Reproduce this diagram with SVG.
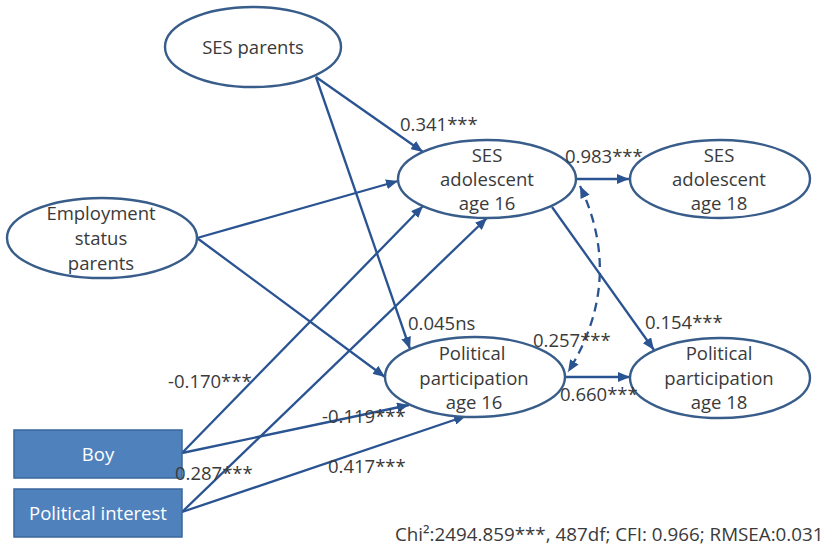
<svg xmlns="http://www.w3.org/2000/svg" width="824" height="555" viewBox="0 0 824 555">
  <style>
    .node ellipse { fill: #ffffff; stroke: #385D8A; stroke-width: 2.4; }
    .box rect { fill: #4F81BD; stroke: #3A679C; stroke-width: 1.5; }
    text { font-family: "Open Sans", "Noto Sans", "Liberation Sans", sans-serif; font-size: 18.5px; fill: #3a3a3a; }
    .c { text-anchor: middle; }
    .box text { fill: #ffffff; text-anchor: middle; }
    .fit { font-size: 18.8px; }
    .edge { fill: none; stroke: #2A5392; stroke-width: 2.3; marker-end: url(#arrow); }
    .cov { fill: none; stroke: #2A5392; stroke-width: 2.3; stroke-dasharray: 9 6; marker-start: url(#arrowS); marker-end: url(#arrow); }
  </style>
  <defs>
    <marker id="arrow" viewBox="0 0 12 10" refX="12" refY="5" markerWidth="12" markerHeight="10" markerUnits="userSpaceOnUse" orient="auto">
      <path d="M0 0 L12 5 L0 10 Z" fill="#2A5392"/>
    </marker>
    <marker id="arrowS" viewBox="0 0 12 10" refX="12" refY="5" markerWidth="12" markerHeight="10" markerUnits="userSpaceOnUse" orient="auto-start-reverse">
      <path d="M0 0 L12 5 L0 10 Z" fill="#2A5392"/>
    </marker>
  </defs>

  <rect width="824" height="555" fill="#ffffff"/>

  <!-- paths between variables -->
  <g id="connectors">
    <path class="edge" d="M316 77 L423 152"/>
    <path class="edge" d="M316 77 L410 349"/>
    <path class="edge" d="M197 238 L398 181"/>
    <path class="edge" d="M197 238 L385 377"/>
    <path class="edge" d="M182 453 L423 206"/>
    <path class="edge" d="M182 453 L409 405"/>
    <path class="edge" d="M182 512 L487 218"/>
    <path class="edge" d="M182 512 L466 416"/>
    <path class="edge" d="M577 179 L629 179"/>
    <path class="edge" d="M552 207 L654 350"/>
    <path class="edge" d="M565 377 L630 377"/>
    <path class="cov" d="M580 186 Q625 281 568 372"/>
  </g>

  <g id="ses-parents" class="node">
    <ellipse cx="253" cy="47" rx="88" ry="40"/>
    <text class="c" x="253" y="54">SES parents</text>
  </g>

  <g id="employment-status-parents" class="node">
    <ellipse cx="102" cy="238" rx="95" ry="40"/>
    <text class="c" x="101" y="220">Employment</text>
    <text class="c" x="101" y="245">status</text>
    <text class="c" x="101" y="270">parents</text>
  </g>

  <g id="ses-adolescent-16" class="node">
    <ellipse cx="487" cy="179" rx="89" ry="39"/>
    <text class="c" x="487" y="162">SES</text>
    <text class="c" x="487" y="186">adolescent</text>
    <text class="c" x="487" y="210">age 16</text>
  </g>

  <g id="ses-adolescent-18" class="node">
    <ellipse cx="720" cy="179" rx="90" ry="39"/>
    <text class="c" x="719" y="162">SES</text>
    <text class="c" x="719" y="186">adolescent</text>
    <text class="c" x="719" y="210">age 18</text>
  </g>

  <g id="political-participation-16" class="node">
    <ellipse cx="475" cy="377" rx="90" ry="40"/>
    <text class="c" x="472" y="360">Political</text>
    <text class="c" x="474" y="385">participation</text>
    <text class="c" x="474" y="409">age 16</text>
  </g>

  <g id="political-participation-18" class="node">
    <ellipse cx="720" cy="378" rx="90" ry="40"/>
    <text class="c" x="719" y="360">Political</text>
    <text class="c" x="719" y="385">participation</text>
    <text class="c" x="719" y="409">age 18</text>
  </g>

  <g id="boy" class="box">
    <rect x="14" y="430" width="168" height="48"/>
    <text x="98" y="461">Boy</text>
  </g>

  <g id="political-interest" class="box">
    <rect x="14" y="489" width="168" height="48"/>
    <text x="98" y="520">Political interest</text>
  </g>

  <!-- path coefficients and fit statistics -->
  <g id="labels">
    <text x="400" y="131">0.341***</text>
    <text x="565" y="163">0.983***</text>
    <text x="408" y="330">0.045ns</text>
    <text x="533" y="347">0.257***</text>
    <text x="645" y="329">0.154***</text>
    <text x="560" y="401">0.660***</text>
    <text x="168" y="388">-0.170***</text>
    <text x="322" y="423">-0.119***</text>
    <text x="175" y="480">0.287***</text>
    <text x="328" y="473">0.417***</text>
    <text class="fit" x="395" y="541">Chi²:2494.859***, 487df; CFI: 0.966; RMSEA:0.031</text>
  </g>
</svg>
